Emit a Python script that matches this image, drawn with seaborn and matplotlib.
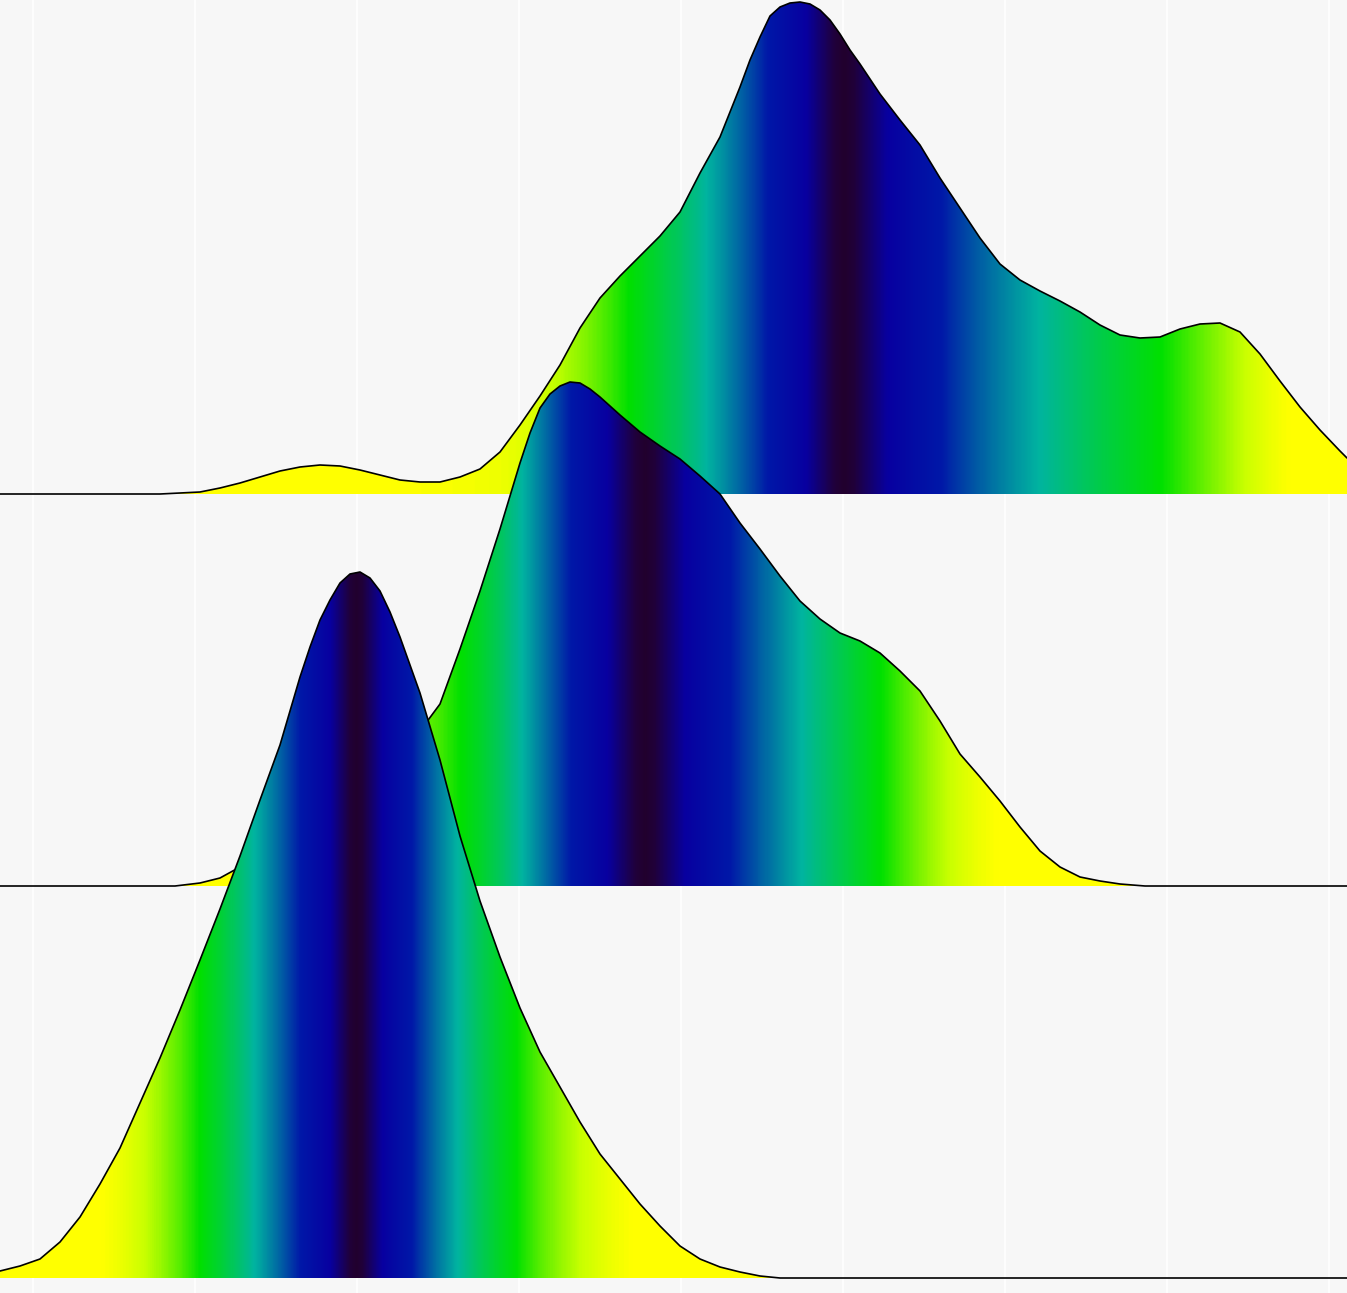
import numpy as np
import matplotlib
matplotlib.use("Agg")
import matplotlib.pyplot as plt
from matplotlib.colors import LinearSegmentedColormap
from matplotlib.patches import Polygon
import seaborn as sns

# density readings for the three ridges (top to bottom), value axis 0..1347
grid_a = (list(range(160, 741, 20)) + list(range(750, 861, 10))
          + list(range(880, 1341, 20)) + [1347])
dens_a = [0, 1, 2, 6, 11, 17, 23, 27, 29, 28,
          24, 19, 14, 12, 12, 17, 25, 42, 69, 98,
          129, 166, 196, 218, 238, 258, 282, 321, 357, 407,
          434, 457, 478, 487, 491, 492, 490, 484, 474, 460, 444, 430,
          400, 374, 349, 316, 286, 256, 230, 214, 203, 193,
          182, 169, 159, 156, 157, 165, 170, 171, 162, 140,
          113, 87, 64, 43,
          36]

grid_b = ([175] + list(range(200, 521, 20)) + list(range(530, 601, 10))
          + list(range(620, 1121, 20)) + [1145])
dens_b = [0,
          3, 8, 19, 30, 42, 55, 70, 85, 101, 118,
          135, 155, 182, 237, 295, 357, 423,
          453, 478, 492, 500, 504, 503, 497, 489,
          471, 454, 440, 427, 410, 392, 363, 337, 310, 285,
          267, 253, 245, 233, 215, 195, 165, 132, 109, 85,
          59, 35, 19, 9, 5, 2,
          0]

grid_c = list(range(0, 301, 20)) + list(range(310, 401, 10)) + list(range(420, 781, 20))
dens_c = [7, 12, 19, 36, 61, 94, 130, 175, 220, 268,
          318, 369, 422, 478, 533, 601,
          631, 658, 678, 695, 704, 706, 700, 687, 666, 641,
          585, 518, 442, 377, 321, 270, 226, 191, 156, 124,
          99, 74, 52, 32, 19, 11, 6, 2, 0]

ridges = [(grid_a, dens_a), (grid_b, dens_b), (grid_c, dens_c)]
x_max = 1347
spacing = 392
offsets = [2 * spacing, spacing, 0]

stops = [0.0, 0.04, 0.17, 0.35, 0.58, 0.78, 0.91, 0.965, 1.0]
colors = ["#22002e", "#20003a", "#0800a0", "#0018a8", "#00b4a0", "#00e000",
          "#c8ff00", "#ffff00", "#ffff00"]
cmap = LinearSegmentedColormap.from_list("ridge", list(zip(stops, colors)))

sns.set_theme(style="darkgrid", rc={"axes.facecolor": "#f7f7f7",
                                    "figure.facecolor": "#f7f7f7",
                                    "grid.color": "white",
                                    "grid.linewidth": 1.2})

fig = plt.figure(figsize=(13.47, 12.93), dpi=100)
ax = fig.add_axes([0, 0, 1, 1])

for i, ((g, d), off) in enumerate(zip(ridges, offsets)):
    x = np.array(g, dtype=float)
    h = np.array(d, dtype=float)
    z = 2 + 2 * i

    # colour by distance from the median (ecdf-based)
    cdf = np.concatenate([[0], np.cumsum(np.diff(x) * (h[1:] + h[:-1]) / 2)])
    cdf /= cdf[-1]
    xs = np.linspace(x[0], x[-1], 800)
    t = np.abs(2 * np.interp(xs, x, cdf) - 1)

    poly = Polygon(np.column_stack([np.r_[x, x[::-1]],
                                    np.r_[h + off, np.full(len(x), off)]]),
                   closed=True, facecolor="none", edgecolor="none")
    ax.add_patch(poly)
    im = ax.imshow(t[None, :], cmap=cmap, vmin=0, vmax=1, aspect="auto",
                   extent=[x[0], x[-1], off, off + h.max()], origin="lower",
                   interpolation="bilinear", zorder=z)
    im.set_clip_path(poly)

    lx, ly = list(x), list(h)
    if lx[0] > 0:
        lx, ly = [0] + lx, [0] + ly
    if lx[-1] < x_max:
        lx, ly = lx + [x_max], ly + [0]
    sns.lineplot(x=lx, y=np.array(ly) + off, color="black", linewidth=1.2,
                 estimator=None, sort=False, zorder=z + 1, ax=ax)

ax.set_xlim(0, x_max)
ax.set_ylim(-15, 1278)
ax.set_xticks(np.arange(33, x_max, 162))
ax.set_yticks([])
ax.set_xticklabels([])
ax.tick_params(length=0)
ax.yaxis.grid(False)
for s in ax.spines.values():
    s.set_visible(False)

fig.savefig("out.png", dpi=100)
